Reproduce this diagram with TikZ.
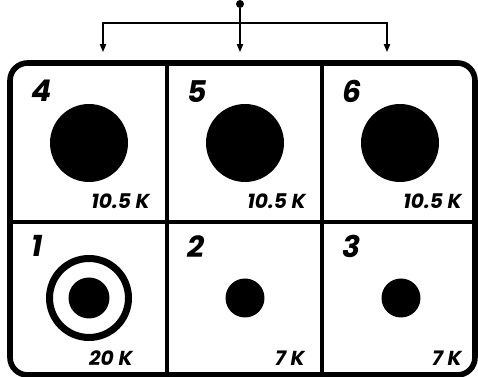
\documentclass[tikz,border=0pt]{standalone}
\usepackage{fontspec}
\setmainfont{Poppins}
\usetikzlibrary{arrows.meta}
\tikzset{
  feedline/.style={line width=0.6pt,-{Triangle[length=4.5pt,width=3.6pt]}},
  num/.style={font=\bfseries\itshape\fontsize{17}{17}\selectfont,anchor=north west,inner sep=0pt},
  val/.style={font=\bfseries\itshape\fontsize{11.5}{11.5}\selectfont,anchor=south east,inner sep=0pt},
  bigdot/.style={circle,fill=black,inner sep=0pt,minimum size=1.56cm},
  smalldot/.style={circle,fill=black,inner sep=0pt,minimum size=0.78cm}
}
\begin{document}
\begin{tikzpicture}[x=0.02cm,y=0.02cm]
\useasboundingbox (0,0) rectangle (478,377);
% feed from the top
\node[circle,fill=black,inner sep=0pt,minimum size=0.16cm] (src) at (240,373) {};
\coordinate (split) at (240,354);
\coordinate (a4) at (103,325); \coordinate (a5) at (240,325); \coordinate (a6) at (387,325);
\draw[feedline] (src) -- (a5);
\draw[feedline] (split) -| (a4);
\draw[feedline] (split) -| (a6);
% frame and cells
\draw[line width=3.2pt,rounded corners=10pt] (10,2) rectangle (475,314);
\draw[line width=1.8pt] (167,2) -- (167,314) (322,2) -- (322,314) (10,155) -- (475,155);
% top row
\node[bigdot] (d4) at (89,234) {};
\node[bigdot] (d5) at (245,234) {};
\node[bigdot] (d6) at (400,234) {};
\node[num] (n4) at (31,297) {4};
\node[num] (n5) at (187,297) {5};
\node[num] (n6) at (342,297) {6};
\node[val] (v4) at (150,168) {10.5 K};
\node[val] (v5) at (306,168) {10.5 K};
\node[val] (v6) at (462,168) {10.5 K};
% bottom row
\node[circle,draw=black,line width=4pt,inner sep=0pt,minimum size=1.58cm] (r1) at (89,79) {};
\node[circle,fill=black,inner sep=0pt,minimum size=0.82cm] (d1) at (89,79) {};
\node[smalldot] (d2) at (245,79) {};
\node[smalldot] (d3) at (401,79) {};
\node[num] (n1) at (31,142) {1};
\node[num] (n2) at (187,142) {2};
\node[num] (n3) at (342,142) {3};
\node[val] (v1) at (133,11) {20 K};
\node[val] (v2) at (305,11) {7 K};
\node[val] (v3) at (462,11) {7 K};
\end{tikzpicture}
\end{document}
